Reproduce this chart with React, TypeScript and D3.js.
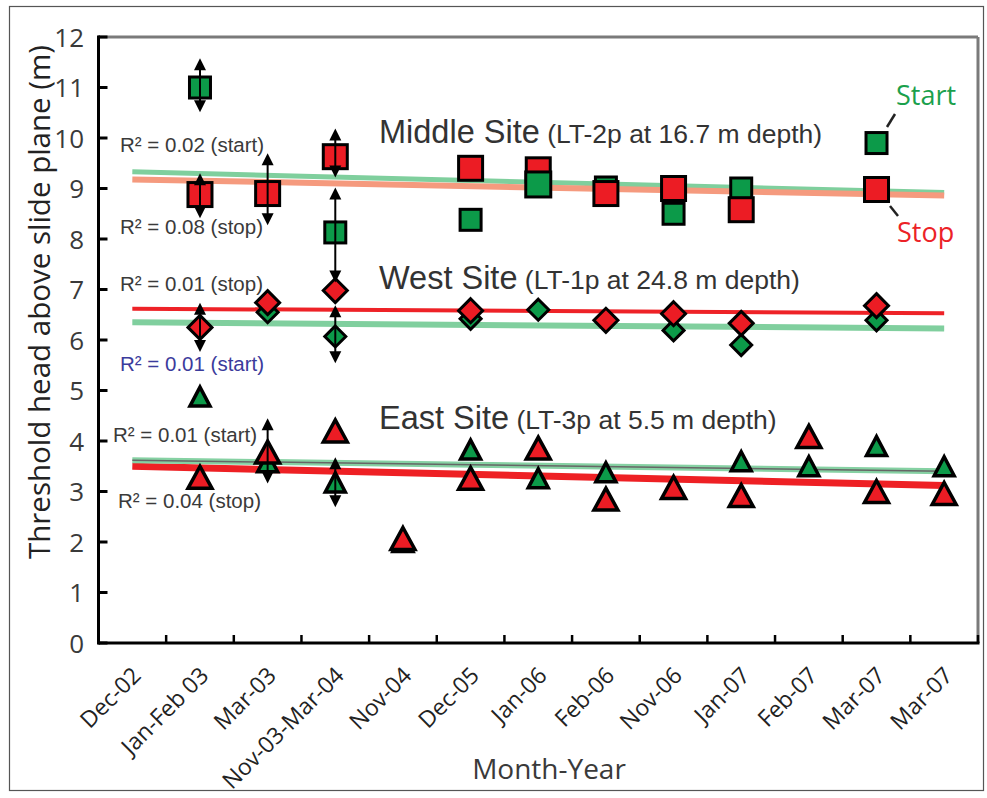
import React from "react";
import * as d3 from "d3";

// ---------- data ----------
const categories = [
  "Dec-02", "Jan-Feb 03", "Mar-03", "Nov-03-Mar-04", "Nov-04", "Dec-05", "Jan-06",
  "Feb-06", "Nov-06", "Jan-07", "Feb-07", "Mar-07", "Mar-07",
];
const yTicks = [0, 1, 2, 3, 4, 5, 6, 7, 8, 9, 10, 11, 12];

// Middle Site (squares)
const middleStart = [null, 11.0, null, 8.13, null, 8.38, 9.08, 9.02, 8.5, 9.0, null, 9.9, null];
const middleStop = [null, 8.88, 8.9, 9.63, null, 9.4, 9.37, 8.9, 9.0, 8.58, null, 8.98, null];
// West Site (diamonds)
const westStart = [null, 6.25, 6.55, 6.07, null, 6.42, 6.6, null, 6.19, 5.9, null, 6.39, null];
const westStop = [null, 6.25, 6.74, 6.98, null, 6.58, null, 6.39, 6.52, 6.33, null, 6.68, null];
// East Site (triangles)
const eastStart = [null, 4.88, 3.58, 3.18, 2.0, 3.83, 3.26, 3.38, null, 3.6, 3.5, 3.9, 3.5];
const eastStop = [null, 3.28, 3.78, 4.2, 2.07, 3.26, 3.86, 2.85, 3.08, 2.92, 4.09, 3.0, 2.96];

// error arrows: [category index, low, high]
const arrowRanges: [number, number, number][] = [
  [1, 10.51, 11.58],
  [1, 8.41, 9.3],
  [2, 8.27, 9.7],
  [3, 9.22, 10.19],
  [3, 7.14, 9.02],
  [1, 5.76, 6.74],
  [3, 5.54, 6.69],
  [2, 3.16, 4.45],
  [3, 2.69, 3.68],
];

// trend lines: [value at first category, value at last category]
const middleStartTrend = [9.33, 8.92];
const middleStopTrend = [9.18, 8.86];
const westStopTrend = [6.62, 6.53];
const westStartTrend = [6.35, 6.23];
const eastStartTrend = [3.62, 3.4];
const eastStopTrend = [3.5, 3.12];

// ---------- chart ----------
const W = 987;
const H = 798;
const M = { left: 98.5, right: 978, top: 37, bottom: 643 };
const GREEN = "#0c9a49";
const RED = "#ec1c24";
const AX = "'Open Sans', 'Noto Sans', sans-serif";
const AR = "'Liberation Sans', Arial, sans-serif";

export default function App() {
  const x = d3
    .scaleBand<number>()
    .domain(d3.range(categories.length))
    .range([M.left, M.right]);
  const cx = (i: number) => (x(i) as number) + x.bandwidth() / 2;
  const y = d3.scaleLinear().domain([0, 12]).range([M.bottom, M.top]);
  const last = categories.length - 1;

  const trend = (t: number[], color: string, w: number, key: string) => {
    const line = d3.line<[number, number]>().x((d) => d[0]).y((d) => d[1]);
    return (
      <path
        key={key}
        d={line([
          [cx(0), y(t[0])],
          [cx(last), y(t[1])],
        ]) as string}
        stroke={color}
        strokeWidth={w}
        fill="none"
      />
    );
  };

  const square = (vals: (number | null)[], fill: string, key: string, s = 22) =>
    vals.map((v, i) =>
      v == null ? null : (
        <rect
          key={key + i}
          x={cx(i) - s / 2}
          y={y(v) - s / 2}
          width={s}
          height={s}
          fill={fill}
          stroke="#000"
          strokeWidth={3}
        />
      )
    );
  const diamond = (vals: (number | null)[], fill: string, key: string, r = 12) =>
    vals.map((v, i) => {
      if (v == null) return null;
      const X = cx(i), Y = y(v);
      return (
        <path
          key={key + i}
          d={`M${X},${Y - r}L${X + r},${Y}L${X},${Y + r}L${X - r},${Y}Z`}
          fill={fill}
          stroke="#000"
          strokeWidth={3}
          strokeLinejoin="miter"
        />
      );
    });
  const triangle = (vals: (number | null)[], fill: string, key: string, hw = 12, hh = 11) =>
    vals.map((v, i) => {
      if (v == null) return null;
      const X = cx(i), Y = y(v);
      return (
        <path
          key={key + i}
          d={`M${X},${Y - hh}L${X + hw},${Y + hh}L${X - hw},${Y + hh}Z`}
          fill={fill}
          stroke="#000"
          strokeWidth={3.5}
          strokeLinejoin="miter"
        />
      );
    });

  const arrows = arrowRanges.map(([i, lo, hi], k) => {
    const X = cx(i), y1 = y(hi), y2 = y(lo);
    const ah = 12, aw = 6;
    return (
      <g key={"ar" + k}>
        <line x1={X} x2={X} y1={y1 + 4} y2={y2 - 4} stroke="#000" strokeWidth={2} />
        <path d={`M${X},${y1}L${X + aw},${y1 + ah}L${X - aw},${y1 + ah}Z`} fill="#000" />
        <path d={`M${X},${y2}L${X + aw},${y2 - ah}L${X - aw},${y2 - ah}Z`} fill="#000" />
      </g>
    );
  });

  const rLabel = (txt: string, xx: number, yy: number, color = "#3a3a3a") => (
    <text key={txt + yy} x={xx} y={yy} fontFamily={AR} fontSize={20.5} fill={color}>
      {txt}
    </text>
  );

  const siteLabel = (main: string, sub: string, yy: number) => (
    <text x={379} y={yy} fontFamily={AR} fill="#333">
      <tspan fontSize={32.5}>{main}</tspan>
      <tspan fontSize={26.5}>{" " + sub}</tspan>
    </text>
  );

  return (
    <svg
      width={W}
      height={H}
      style={{ position: "absolute", left: 0, top: 0, background: "#fff" }}
    >
      <rect x={9.5} y={6.5} width={974} height={784} fill="#fff" stroke="#555" strokeWidth={1.2} />

      {/* frame top/right */}
      <line x1={M.left} x2={M.right} y1={M.top} y2={M.top} stroke="#7a7a7a" strokeWidth={3} />
      <line x1={M.right} x2={M.right} y1={M.top} y2={M.bottom} stroke="#7a7a7a" strokeWidth={3} />

      {/* trend lines */}
      {trend(middleStartTrend, "#7fcf9d", 5, "ms")}
      {trend(middleStopTrend, "#f59a7e", 6, "mp")}
      {trend(westStopTrend, "#ee2227", 4, "wp")}
      {trend(westStartTrend, "#80cf9e", 6, "ws")}
      {trend(eastStopTrend, "#ee2024", 7, "ep")}
      {trend(eastStartTrend, "#86d1a3", 6, "es")}
      {trend(eastStartTrend, "#666", 1.5, "es2")}

      {/* markers */}
      {triangle(eastStart, GREEN, "eg", 10, 9.5)}
      {triangle(eastStop, RED, "er", 12, 11)}
      {diamond(westStart, GREEN, "wg", 10.5)}
      {diamond(westStop, RED, "wr", 12)}
      {square(middleStart.map((v, i) => (i === 6 ? null : v)), GREEN, "mg", 21)}
      {square(middleStop, RED, "mr", 24)}
      {square(middleStart.map((v, i) => (i === 6 ? v : null)), GREEN, "mg2", 25)}

      {arrows}

      {/* axes */}
      <line x1={M.left} x2={M.left} y1={M.top - 1.5} y2={M.bottom + 1.5} stroke="#000" strokeWidth={3} />
      <line x1={M.left} x2={M.right + 1.5} y1={M.bottom} y2={M.bottom} stroke="#000" strokeWidth={3} />
      {yTicks.map((t) => (
        <g key={"yt" + t}>
          <line x1={M.left} x2={M.left + 9} y1={y(t)} y2={y(t)} stroke="#000" strokeWidth={3} />
          <text
            x={84}
            y={y(t) + 9.5}
            textAnchor="end"
            fontFamily={AX}
            fontSize={26}
            fill="#3a3a3a"
          >
            {t}
          </text>
        </g>
      ))}
      {categories.map((c, i) => (
        <g key={"xt" + i}>
          <line
            x1={(x(i) as number) + x.bandwidth()}
            x2={(x(i) as number) + x.bandwidth()}
            y1={M.bottom}
            y2={M.bottom - 8}
            stroke="#000"
            strokeWidth={2.5}
          />
          <text
            transform={`translate(${cx(i) + 10},${677}) rotate(-45)`}
            textAnchor="end"
            fontFamily={AX}
            fontSize={23}
            fill="#222"
          >
            {c}
          </text>
        </g>
      ))}

      {/* axis titles */}
      <text
        transform={`translate(${50},${302}) rotate(-90)`}
        textAnchor="middle"
        fontFamily={AX}
        fontSize={29.5}
        fill="#222"
      >
        Threshold head above slide plane (m)
      </text>
      <text x={549} y={779} textAnchor="middle" fontFamily={AX} fontSize={28} fill="#3a3a3a">
        Month-Year
      </text>

      {/* site labels */}
      {siteLabel("Middle Site", "(LT-2p at 16.7 m depth)", 143)}
      {siteLabel("West Site", "(LT-1p at 24.8 m depth)", 289)}
      {siteLabel("East Site", "(LT-3p at 5.5 m depth)", 429)}

      {/* R² labels */}
      {rLabel("R² = 0.02 (start)", 120, 152)}
      {rLabel("R² = 0.08 (stop)", 120, 234)}
      {rLabel("R² = 0.01 (stop)", 120, 291)}
      {rLabel("R² = 0.01 (start)", 120, 371, "#3b3b9c")}
      {rLabel("R² = 0.01 (start)", 113, 442)}
      {rLabel("R² = 0.04 (stop)", 118, 508)}

      {/* Start / Stop callouts */}
      <line x1={895} y1={114} x2={887} y2={127} stroke="#222" strokeWidth={2.5} />
      <text x={896} y={105} fontFamily={AX} fontSize={27} fill="#1aa04c">
        Start
      </text>
      <line x1={890} y1={206} x2={898} y2={216} stroke="#222" strokeWidth={2.5} />
      <text x={897} y={242} fontFamily={AX} fontSize={27} fill="#ec2227">
        Stop
      </text>
    </svg>
  );
}
